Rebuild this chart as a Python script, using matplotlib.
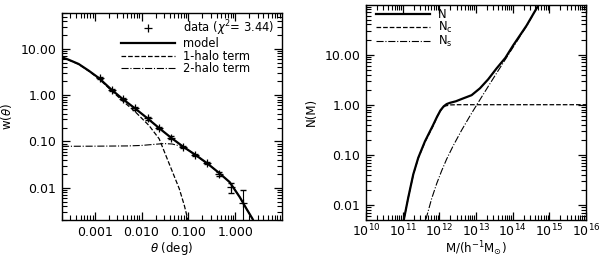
import numpy as np
import matplotlib
matplotlib.use('Agg')
import matplotlib.pyplot as plt
from matplotlib.ticker import FuncFormatter, LogLocator, NullFormatter

# ---- left panel: w(theta) ----
theta_data = [0.00128, 0.0023, 0.0041, 0.0073, 0.0135, 0.0238, 0.0425, 0.078,
              0.141, 0.252, 0.449, 0.80, 1.47]
w_data = [2.33, 1.31, 0.82, 0.516, 0.314, 0.194, 0.121, 0.0753,
          0.0514, 0.0345, 0.020, 0.0103, 0.0047]
w_err = [0.12, 0.07, 0.045, 0.028, 0.017, 0.011, 0.007, 0.0045,
         0.0032, 0.0022, 0.0023, 0.0026, 0.004]

theta_model = [2e-4, 2.76e-4, 4.53e-4, 7.43e-4, 1.22e-3, 0.0023, 0.004, 0.0073,
               0.0135, 0.0238, 0.0425, 0.078, 0.141, 0.252, 0.449, 0.762,
               1.25, 1.74, 2.34, 2.8]
w_model = [6.6, 5.87, 4.74, 3.40, 2.36, 1.31, 0.82, 0.516,
           0.314, 0.194, 0.121, 0.0766, 0.0514, 0.0337, 0.021, 0.0132,
           0.00627, 0.0035, 0.00213, 0.0014]

theta_1h = [2e-4, 2.76e-4, 4.53e-4, 7.43e-4, 1.22e-3, 0.0023, 0.004, 0.0073,
            0.0145, 0.0238, 0.0331, 0.046, 0.064, 0.082, 0.0966, 0.11]
w_1h = [6.5, 5.8, 4.67, 3.33, 2.29, 1.24, 0.745, 0.44,
        0.22, 0.114, 0.0496, 0.0217, 0.00946, 0.00413, 0.0021, 0.0012]

theta_2h = [2e-4, 0.001, 0.005, 0.01, 0.02, 0.03, 0.045, 0.07, 0.1, 0.141,
            0.252, 0.449, 0.762, 1.25, 1.74, 2.34, 2.8]
w_2h = [0.0785, 0.079, 0.080, 0.082, 0.087, 0.090, 0.088, 0.079, 0.065, 0.0505,
        0.0335, 0.021, 0.0132, 0.00627, 0.0035, 0.00213, 0.0014]

# ---- right panel: N(M) ----
logM_N = [10.98, 11.035, 11.153, 11.289, 11.425, 11.608, 11.834, 11.93, 12.03,
          12.12, 12.2, 12.289, 12.45, 12.608, 12.88, 13.106, 13.33, 13.561,
          13.8, 14.014, 14.379, 14.695, 14.8]
N_tot = [0.003, 0.0052, 0.0141, 0.0407, 0.0873, 0.186, 0.398, 0.56, 0.77,
         0.93, 1.03, 1.09, 1.17, 1.3, 1.55, 2.12, 3.2, 5.3,
         8.6, 15.3, 38.0, 95.0, 125.0]

logM_Nc = [10.98, 11.035, 11.153, 11.289, 11.425, 11.608, 11.834, 11.95, 12.063,
           12.15, 12.3, 12.5, 16.0]
N_c = [0.003, 0.0052, 0.014, 0.040, 0.086, 0.18, 0.38, 0.6, 0.82,
       0.94, 0.99, 1.0, 1.0]

logM_Ns = [11.6, 11.635, 11.79, 11.926, 12.063, 12.199, 12.379, 12.608, 12.834,
           13.016, 13.196, 13.332, 13.561, 13.741, 14.014, 14.379, 14.695, 14.8]
N_s = [0.003, 0.0052, 0.0133, 0.0264, 0.048, 0.082, 0.152, 0.31, 0.594,
       0.98, 1.6, 2.31, 4.26, 6.85, 14.1, 37.0, 94.0, 124.0]

plt.rcParams['font.family'] = 'DejaVu Sans'
plt.rcParams['mathtext.fontset'] = 'dejavusans'
plt.rcParams['font.size'] = 8.5

fig = plt.figure(figsize=(6.0, 2.59), dpi=100)
ax1 = fig.add_axes([62/600, 1-220/259, 220/600, 207/259])
ax2 = fig.add_axes([366/600, 1-220/259, 220/600, 215.5/259])


def style(ax):
    ax.xaxis.set_minor_locator(LogLocator(base=10, subs=np.arange(2, 10), numticks=30))
    ax.yaxis.set_minor_locator(LogLocator(base=10, subs=np.arange(2, 10), numticks=30))
    ax.xaxis.set_minor_formatter(NullFormatter())
    ax.yaxis.set_minor_formatter(NullFormatter())
    ax.tick_params(which='both', direction='in', top=True, right=True, labelsize=9)
    ax.tick_params(which='major', length=6, width=0.9, pad=4)
    ax.tick_params(which='minor', length=3.5, width=0.8)
    for s in ax.spines.values():
        s.set_linewidth(1.0)


# left
ax1.errorbar(theta_data, w_data, yerr=w_err, fmt='none', ecolor='k', elinewidth=0.8, capsize=2.5)
ax1.plot(theta_data, w_data, 'k+', ms=6, mew=0.9, ls='none', label=r'data ($\chi^2$= 3.44)')
ax1.plot(theta_model, w_model, 'k-', lw=1.6, label='model')
ax1.plot(theta_1h, w_1h, 'k--', lw=0.9, label='1-halo term')
ax1.plot(theta_2h, w_2h, 'k-.', lw=0.8, label='2-halo term')
ax1.set_xscale('log')
ax1.set_yscale('log')
ax1.set_xlim(2e-4, 10)
ax1.set_ylim(0.002, 60)
ax1.set_xticks([0.001, 0.01, 0.1, 1.0])
ax1.set_yticks([0.01, 0.1, 1.0, 10.0])
ax1.xaxis.set_major_formatter(FuncFormatter(lambda v, p: '%.3f' % v))
ax1.yaxis.set_major_formatter(FuncFormatter(lambda v, p: '%.2f' % v))
ax1.set_xlabel(r'$\theta$ (deg)', labelpad=1)
ax1.set_ylabel(r'w($\theta$)', labelpad=5)
style(ax1)
ax1.legend(loc='upper right', bbox_to_anchor=(0.975, 0.985), frameon=False, fontsize=8.3,
           handlelength=4.7, handletextpad=0.65, labelspacing=-0.05,
           borderaxespad=0.0, borderpad=0.2, numpoints=1)

# right
ax2.plot(10.0 ** np.array(logM_N), N_tot, 'k-', lw=1.6, label='N')
ax2.plot(10.0 ** np.array(logM_Nc), N_c, 'k--', lw=0.9, label=r'N$_{\rm c}$')
ax2.plot(10.0 ** np.array(logM_Ns), N_s, 'k-.', lw=0.8, label=r'N$_{\rm s}$')
ax2.set_xscale('log')
ax2.set_yscale('log')
ax2.set_xlim(1e10, 1e16)
ax2.set_ylim(0.005, 100)
ax2.set_xticks([1e10, 1e11, 1e12, 1e13, 1e14, 1e15, 1e16])
ax2.set_yticks([0.01, 0.1, 1.0, 10.0])
ax2.yaxis.set_major_formatter(FuncFormatter(lambda v, p: '%.2f' % v))
ax2.set_xlabel(r'M/(h$^{-1}$M$_{\odot}$)', labelpad=0)
ax2.set_ylabel('N(M)', labelpad=5)
style(ax2)
ax2.tick_params(axis='x', which='major', pad=2)
ax2.legend(loc='upper left', bbox_to_anchor=(0.035, 0.995), frameon=False, fontsize=8.3,
           handlelength=4.7, handletextpad=0.65, labelspacing=-0.1,
           borderaxespad=0.0, borderpad=0.2)

fig.savefig('out.png', dpi=100)
